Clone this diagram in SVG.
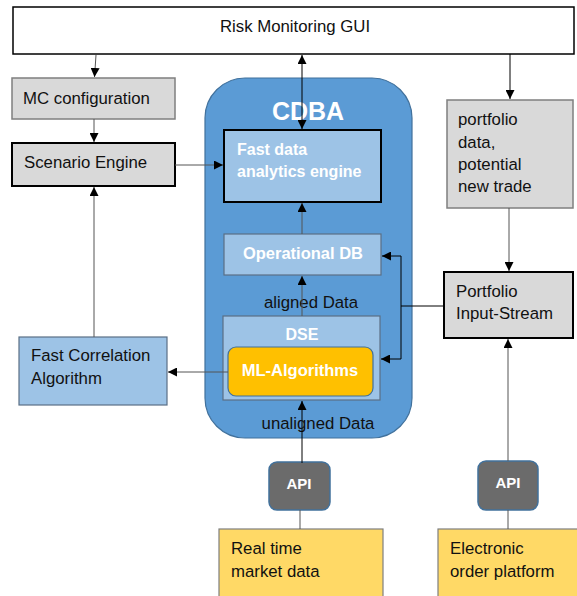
<svg xmlns="http://www.w3.org/2000/svg" width="577" height="596" viewBox="0 0 577 596">
<defs>
<marker id="ah" viewBox="0 0 10 10" refX="10" refY="5" markerWidth="9" markerHeight="9" markerUnits="userSpaceOnUse" orient="auto-start-reverse">
<path d="M0,0 L10,5 L0,10 z" fill="#000"/>
</marker>
<style>
text{font-family:"Liberation Sans",Arial,sans-serif;font-size:16.8px;fill:#111}
.w{fill:#fff;font-weight:bold;font-size:16px}
.gray{fill:#d9d9d9;stroke:#7f7f7f;stroke-width:1.5}
.grayb{fill:#d9d9d9;stroke:#000;stroke-width:2}
.lb{fill:#9dc3e6;stroke:#5a6f85;stroke-width:1.2}
.api{fill:#6b6b6b;stroke:#41719c;stroke-width:1.5}
.yel{fill:#ffd966;stroke:#7f7f7f;stroke-width:1.2}
.c{fill:none;stroke:#000;stroke-width:1}
.cg{fill:none;stroke:#555;stroke-width:1}
</style>
</defs>
<rect width="577" height="596" fill="#fff"/>
<g id="gui"><rect x="13" y="7" width="561" height="47" fill="#fff" stroke="#000" stroke-width="1.5"/><text x="295" y="32" text-anchor="middle">Risk Monitoring GUI</text></g>
<g id="mc"><rect class="gray" x="12" y="78" width="163" height="41" stroke="#222"/><text x="23" y="104">MC configuration</text></g>
<g id="scenario"><rect class="grayb" x="12" y="143" width="163" height="43"/><text x="24" y="168">Scenario Engine</text></g>
<g id="cdba"><rect x="205" y="78" width="207" height="360" rx="40" fill="#5b9bd5" stroke="#41719c" stroke-width="1.2"/><text x="308" y="120" text-anchor="middle" class="w" style="font-size:25px">CDBA</text></g>
<g id="fastdata"><rect x="224" y="130" width="157" height="72" fill="#9dc3e6" stroke="#000" stroke-width="2"/><text x="237" y="155" class="w">Fast data</text><text x="237" y="177" class="w">analytics engine</text></g>
<g id="opdb"><rect class="lb" x="224" y="234" width="157" height="41"/><text x="303" y="259" text-anchor="middle" class="w" style="font-size:16.5px">Operational DB</text></g>
<text x="311" y="308" text-anchor="middle">aligned Data</text>
<g id="dse"><rect class="lb" x="223" y="316" width="157" height="84"/><text x="302" y="340" text-anchor="middle" class="w">DSE</text></g>
<g id="ml"><rect x="228" y="347" width="145" height="49" rx="8" fill="#ffc000" stroke="#41719c" stroke-width="1.2"/><text x="300" y="376" text-anchor="middle" class="w" style="font-size:16.5px">ML-Algorithms</text></g>
<text x="318" y="429" text-anchor="middle">unaligned Data</text>
<g id="portdata"><rect class="gray" x="447" y="100" width="126" height="108"/><text x="458" y="125">portfolio</text><text x="458" y="148">data,</text><text x="458" y="170">potential</text><text x="458" y="192">new trade</text></g>
<g id="portstream"><rect class="grayb" x="444" y="272" width="129" height="66"/><text x="456" y="297">Portfolio</text><text x="456" y="319">Input-Stream</text></g>
<g id="fastcorr"><rect class="lb" x="19" y="337" width="148" height="68"/><text x="31" y="361">Fast Correlation</text><text x="31" y="384">Algorithm</text></g>
<g id="api1"><rect class="api" x="269" y="462" width="61" height="48" rx="8"/><text x="299" y="489" text-anchor="middle" class="w" style="font-size:15px">API</text></g>
<g id="api2"><rect class="api" x="478" y="461" width="60" height="49" rx="8"/><text x="508" y="488" text-anchor="middle" class="w" style="font-size:15px">API</text></g>
<g id="market"><rect class="yel" x="219" y="529" width="164" height="70"/><text x="231" y="554">Real time</text><text x="231" y="577">market data</text></g>
<g id="electronic"><rect class="yel" x="438" y="529" width="142" height="70"/><text x="450" y="554">Electronic</text><text x="450" y="577">order platform</text></g>
<g id="connectors">
<path class="cg" d="M96,55 L94.5,77" marker-end="url(#ah)"/>
<path class="cg" d="M94,119 L94,142" marker-end="url(#ah)"/>
<path class="c" d="M302,55 L302,129" marker-start="url(#ah)" marker-end="url(#ah)"/>
<path class="c" d="M510,54 L510,99" stroke-width="1.5" marker-end="url(#ah)"/>
<path class="cg" d="M509,208 L509,271" marker-end="url(#ah)"/>
<path class="cg" d="M175,165 L223,165" marker-end="url(#ah)"/>
<path class="cg" d="M302,234 L302,203" marker-end="url(#ah)"/>
<path class="cg" d="M302,316 L302,276" marker-end="url(#ah)"/>
<path class="c" d="M302,463 L302,401" marker-end="url(#ah)"/>
<path class="cg" d="M94,337 L94,187" marker-end="url(#ah)"/>
<path class="cg" d="M228,372 L168,372" marker-end="url(#ah)"/>
<path class="c" d="M444,306 L401,306 L401,256 L382,256" marker-end="url(#ah)"/>
<path class="c" d="M401,306 L401,359 L381,359" marker-end="url(#ah)"/>
<path class="cg" d="M508,461 L508,339" marker-end="url(#ah)"/>
<path class="cg" d="M300,510 L300,529"/>
<path class="cg" d="M508,510 L508,529"/>
</g>
</svg>
